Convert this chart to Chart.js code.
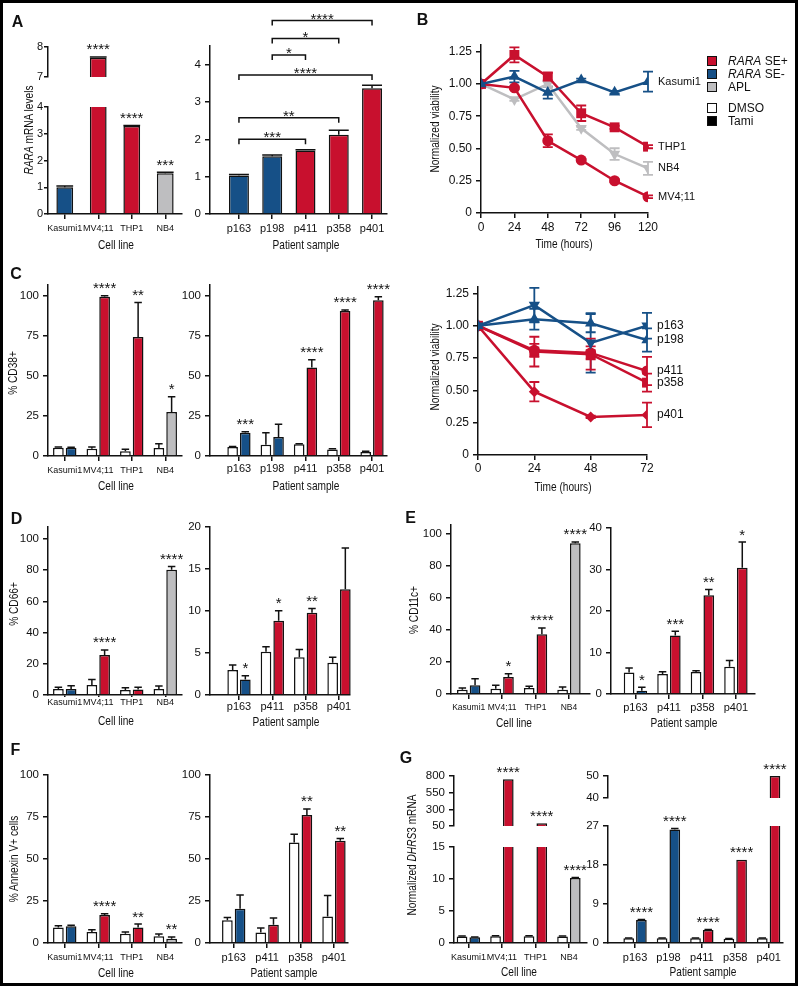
<!DOCTYPE html>
<html lang="en">
<head>
<meta charset="UTF-8">
<title>RARA super-enhancer and tamibarotene response</title>
<script src="https://cdn.jsdelivr.net/npm/chart.js@4.4.1/dist/chart.umd.min.js"></script>
<style>
  html, body { margin: 0; padding: 0; background: #fff; }
  #fig { position: relative; width: 798px; height: 986px; overflow: hidden;
         font-family: 'Liberation Sans', Arial, Helvetica, sans-serif; color: #111; }
  #fig canvas { position: absolute; left: 0; top: 0; }
  .ttl { position: absolute; z-index: 5; white-space: nowrap; line-height: 1; font-size: 13.5px;
         transform: translate(-50%, -50%) scaleX(0.75); }
  .ttl.vert { transform: translate(-50%, -50%) rotate(-90deg) scaleX(0.75); }
  .letter { position: absolute; z-index: 5; line-height: 1; font-size: 16px; font-weight: bold;
            transform: translate(-50%, -50%); }
  .key { position: absolute; z-index: 5; left: 707px; display: flex; align-items: center;
         font-size: 12px; line-height: 1; transform: translateY(-50%); white-space: nowrap; }
  .key .box { width: 8px; height: 8px; border: 1.3px solid #111; margin-right: 11px; }
  #frame { position: absolute; left: 0; top: 0; right: 0; bottom: 0; border: 3px solid #000; z-index: 6; }
</style>
</head>
<body>
<div id="fig"><div id="frame"></div></div>
<script>
    const INK = '#111111', RED = '#c8102e', BLUE = '#165087', GRAY = '#bebec0', WHITE = '#ffffff';
    Chart.defaults.font.family = "'Liberation Sans', Arial, Helvetica, sans-serif";
    Chart.defaults.color = INK;

    // categories
    const cellLines = ['Kasumi1', 'MV4;11', 'THP1', 'NB4'];
    const patients5 = ['p163', 'p198', 'p411', 'p358', 'p401'];
    const patients4 = ['p163', 'p411', 'p358', 'p401'];
    const hoursB = [0, 24, 48, 72, 96, 120];
    const hoursC = [0, 24, 48, 72];

    // tick labels
    const ticksA1Low = [0, 1, 2, 3, 4], ticksA1High = [7, 8], ticksA2 = [0, 1, 2, 3, 4];
    const ticksViab = [0, 0.25, 0.5, 0.75, 1.0, 1.25];
    const ticksPct25 = [0, 25, 50, 75, 100];
    const ticksPct20 = [0, 20, 40, 60, 80, 100];
    const ticksD2 = [0, 5, 10, 15, 20];
    const ticksE2 = [0, 10, 20, 30, 40];
    const ticksG1Low = [0, 5, 10, 15], ticksG1High = [50, 300, 550, 800];
    const ticksG2Low = [0, 9, 18, 27], ticksG2High = [40, 50];

    // A: RARA mRNA
    const raraCell = [1.0, 7.64, 3.29, 1.52];
    const raraCellErr = [0.05, 0.03, 0.02, 0.04];
    const raraCellSig = ['', '****', '****', '***'];
    const raraPat = [1.03, 1.55, 1.70, 2.12, 3.37];
    const raraPatErr = [0.03, 0.03, 0.02, 0.12, 0.08];
    const raraPatPairs = [[0, 2, '***', 2.0], [0, 3, '**', 2.58], [0, 4, '****', 3.72],
                          [1, 2, '*', 4.26], [1, 3, '*', 4.7], [1, 4, '****', 5.18]];

    // B: viability of cell lines
    const viabKasumi1 = [1.0, 1.057, 0.933, 1.031, 0.935, 1.018];
    const viabKasumi1Err = [0, 0.045, 0.047, 0.01, 0.01, 0.078];
    const viabTHP1 = [1.0, 1.225, 1.057, 0.773, 0.664, 0.514];
    const viabTHP1Err = [0, 0.058, 0.03, 0.06, 0.012, 0.012];
    const viabNB4 = [1.0, 0.88, 1.0, 0.656, 0.457, 0.346];
    const viabNB4Err = [0, 0.01, 0.02, 0.012, 0.045, 0.05];
    const viabMV411 = [1.0, 0.97, 0.56, 0.41, 0.25, 0.126];
    const viabMV411Err = [0, 0.01, 0.05, 0.01, 0.01, 0.01];

    // C: CD38
    const cd38CellDmso = [5.2, 4.6, 2.9, 5.0];
    const cd38CellDmsoErr = [0.4, 1.0, 1.3, 2.7];
    const cd38CellTami = [5.2, 99.6, 74.5, 27.6];
    const cd38CellTamiErr = [0.2, 0.6, 21.5, 9.4];
    const cd38CellSig = ['', '****', '**', '*'];
    const cd38PatDmso = [5.6, 7.1, 7.3, 4.0, 2.5];
    const cd38PatDmsoErr = [0.3, 7.5, 0.4, 0.6, 0.5];
    const cd38PatTami = [14.6, 11.9, 55.3, 90.8, 97.5];
    const cd38PatTamiErr = [0.6, 7.9, 5.0, 0.6, 2.1];
    const cd38PatSig = ['***', '', '****', '****', '****'];

    // C: viability of patient samples
    const viabP163 = [1.0, 1.16, 0.868, 1.0], viabP163Err = [0, 0.134, 0.23, 0.1];
    const viabP198 = [1.0, 1.05, 1.02, 0.89], viabP198Err = [0, 0.08, 0.07, 0.09];
    const viabP411 = [1.0, 0.81, 0.79, 0.65], viabP411Err = [0, 0.05, 0.05, 0.11];
    const viabP358 = [1.0, 0.80, 0.78, 0.56], viabP358Err = [0, 0.115, 0.12, 0.07];
    const viabP401 = [1.0, 0.49, 0.295, 0.31], viabP401Err = [0, 0.075, 0.01, 0.095];

    // D: CD66
    const cd66CellDmso = [3.8, 6.4, 3.2, 3.9], cd66CellDmsoErr = [1.2, 3.6, 1.4, 1.9];
    const cd66CellTami = [3.8, 25.7, 3.6, 80.3], cd66CellTamiErr = [2.2, 3.2, 1.3, 2.1];
    const cd66CellSig = ['', '****', '', '****'];
    const cd66PatDmso = [2.97, 5.15, 4.48, 3.84], cd66PatDmsoErr = [0.59, 0.59, 0.95, 0.64];
    const cd66PatTami = [1.86, 8.83, 9.78, 12.6], cd66PatTamiErr = [0.44, 1.19, 0.52, 4.9];
    const cd66PatSig = ['*', '*', '**', ''];

    // E: CD11c
    const cd11cCellDmso = [2.7, 3.3, 3.75, 2.7], cd11cCellDmsoErr = [1.05, 2.1, 1.05, 1.7];
    const cd11cCellTami = [5.4, 10.6, 37.3, 94.2], cd11cCellTamiErr = [4.2, 2.1, 3.95, 0.8];
    const cd11cCellSig = ['', '*', '****', '****'];
    const cd11cPatDmso = [5.2, 4.8, 5.28, 6.56], cd11cPatDmsoErr = [1.04, 0.56, 0.32, 1.54];
    const cd11cPatTami = [0.8, 14.1, 23.8, 30.4], cd11cPatTamiErr = [0.8, 1.0, 1.4, 6.2];
    const cd11cPatSig = ['*', '***', '**', '*'];

    // F: Annexin V
    const annexCellDmso = [9.3, 6.5, 5.5, 4.0], annexCellDmsoErr = [1.0, 1.4, 1.0, 1.3];
    const annexCellTami = [9.9, 16.6, 9.3, 2.6], annexCellTamiErr = [0.6, 0.8, 2.0, 1.0];
    const annexCellSig = ['', '****', '**', '**'];
    const annexPatDmso = [13.5, 6.3, 59.8, 15.8], annexPatDmsoErr = [1.7, 2.6, 5.0, 12.5];
    const annexPatTami = [20.4, 10.9, 76.2, 60.8], annexPatTamiErr = [8.1, 4.0, 3.6, 1.4];
    const annexPatSig = ['', '', '**', '**'];

    // G: DHRS3 mRNA
    const dhrsCellDmso = [1.0, 1.05, 1.05, 1.0], dhrsCellDmsoErr = [0.08, 0.08, 0.08, 0.08];
    const dhrsCellTami = [0.9, 750, 90, 10.15], dhrsCellTamiErr = [0.05, 0, 0, 0.08];
    const dhrsCellSig = ['', '****', '****', '****'];
    const dhrsPatDmso = [1.1, 1.1, 1.1, 1.0, 1.1], dhrsPatDmsoErr = [0.05, 0.05, 0.05, 0.05, 0.05];
    const dhrsPatTami = [5.3, 26.2, 3.0, 19.2, 50], dhrsPatTamiErr = [0.15, 0.2, 0.1, 0, 0];
    const dhrsPatSig = ['****', '****', '****', '****', '****'];

    // bar fills per category (style)
    const cellTone = [BLUE, RED, RED, GRAY];
    const pat5Tone = [BLUE, BLUE, RED, RED, RED];
    const pat4Tone = [BLUE, RED, RED, RED];

    const PW = 798, PH = 986, YW = 44, XH = 40;
    const fig = document.getElementById('fig');
    const STAR_FONT = '15px "Liberation Sans", Arial, sans-serif';

    // error bars, significance stars, brackets and end-of-line labels
    const extras = {
        id: 'extras',
        beforeDatasetsDraw(chart) {
            if (chart.config.type !== 'line') return;
            const { ctx, scales: { y } } = chart;
            ctx.save();
            ctx.lineWidth = 1.8;
            chart.data.datasets.forEach((ds, di) => {
                if (!ds.err) return;
                ctx.strokeStyle = ds.borderColor;
                chart.getDatasetMeta(di).data.forEach((el, i) => {
                    const e = ds.err[i];
                    if (!e) return;
                    const v = ds.data[i].y;
                    const y1 = y.getPixelForValue(v + e), y2 = y.getPixelForValue(v - e);
                    ctx.beginPath();
                    ctx.moveTo(el.x, y1); ctx.lineTo(el.x, y2);
                    ctx.moveTo(el.x - 5, y1); ctx.lineTo(el.x + 5, y1);
                    ctx.moveTo(el.x - 5, y2); ctx.lineTo(el.x + 5, y2);
                    ctx.stroke();
                });
            });
            ctx.restore();
        },
        afterDatasetsDraw(chart, args, o) {
            const { ctx, chartArea: a, scales: { x, y } } = chart;
            const isBar = chart.config.type === 'bar';
            const clipTop = o.clipTop === undefined ? 3 : o.clipTop;
            ctx.save();
            ctx.fillStyle = INK;
            ctx.strokeStyle = INK;
            chart.data.datasets.forEach((ds, di) => {
                const meta = chart.getDatasetMeta(di);
                meta.data.forEach((el, i) => {
                    const v = ds.data[i].y;
                    const e = ds.err ? ds.err[i] : 0;
                    if (isBar && e) {
                        ctx.save();
                        ctx.beginPath();
                        ctx.rect(a.left - 10, a.top - clipTop, a.width + 20, a.height + clipTop);
                        ctx.clip();
                        const y0 = y.getPixelForValue(v), y1 = y.getPixelForValue(v + e);
                        const hw = el.width * (o.cap || 0.7) / 2;
                        ctx.lineWidth = 1.5;
                        ctx.beginPath();
                        ctx.moveTo(el.x, y0); ctx.lineTo(el.x, y1);
                        ctx.moveTo(el.x - hw, y1); ctx.lineTo(el.x + hw, y1);
                        ctx.stroke();
                        ctx.restore();
                    }
                    const s = ds.stars && ds.stars[i];
                    const top = v + e;
                    if (s && top >= y.min && top <= y.max) {
                        ctx.font = STAR_FONT;
                        ctx.textAlign = 'center';
                        ctx.textBaseline = 'alphabetic';
                        ctx.fillText(s, el.x, y.getPixelForValue(top) - 2.5);
                    }
                });
                if (o.endLabels && ds.label) {
                    const last = meta.data[meta.data.length - 1];
                    ctx.font = o.labelSize + 'px "Liberation Sans", Arial, sans-serif';
                    ctx.textAlign = 'left';
                    ctx.textBaseline = 'middle';
                    ctx.fillText(ds.label, last.x + 10, last.y);
                }
            });
            (o.brackets || []).forEach(([i, j, s, level]) => {
                const x1 = x.getPixelForValue(i), x2 = x.getPixelForValue(j);
                const yy = y.getPixelForValue(level);
                ctx.lineWidth = 1.5;
                ctx.beginPath();
                ctx.moveTo(x1, yy + 5); ctx.lineTo(x1, yy); ctx.lineTo(x2, yy); ctx.lineTo(x2, yy + 5);
                ctx.stroke();
                ctx.font = STAR_FONT;
                ctx.textAlign = 'center';
                ctx.textBaseline = 'alphabetic';
                ctx.fillText(s, (x1 + x2) / 2, yy + 3);
            });
            ctx.restore();
        }
    };

    function pad(area, withX) {
        const [l, t, r, b] = area;
        return { left: l - YW, top: t, right: PW - r, bottom: PH - b - (withX ? XH : 0) };
    }

    function yAxis(ticks, min, max, size, fmt, opt) {
        opt = opt || {};
        return {
            min, max,
            afterBuildTicks: s => { s.ticks = ticks.map(v => ({ value: v })); },
            afterFit: s => { s.width = YW; },
            grid: { drawOnChartArea: false, tickLength: opt.tick || 5, color: INK, lineWidth: 1.5 },
            border: { color: INK, width: 1.5 },
            ticks: {
                color: INK, font: { size }, padding: opt.gap === undefined ? 4 : opt.gap, autoSkip: false,
                callback: fmt || (v => String(v))
            }
        };
    }

    function xAxis(ticks, min, max, opt) {
        return {
            type: 'linear', min, max, offset: false,
            afterBuildTicks: s => { s.ticks = ticks.map(v => ({ value: v })); },
            afterFit: s => { s.height = XH; },
            grid: { offset: false, drawOnChartArea: false, tickLength: opt.tick || 5, color: INK, lineWidth: 1.5 },
            border: { color: INK, width: 1.5 },
            ticks: {
                color: INK, font: { size: opt.size }, padding: opt.gap, autoSkip: false,
                maxRotation: 0, minRotation: 0,
                callback: v => opt.labels ? opt.labels[v] : String(v)
            }
        };
    }

    function hidden(min, max) {
        return { type: 'linear', min, max, offset: false, display: false };
    }

    const idx = arr => arr.map((_, i) => i);
    const viabFmt = v => v === 0 ? '0' : v.toFixed(2);

    function bars(vals, err, fill, sig, cp, bp, clipTop) {
        return {
            data: vals.map((v, i) => ({ x: i, y: v })),
            err, stars: sig,
            backgroundColor: fill, borderColor: INK, borderWidth: 1.5, borderSkipped: 'start',
            categoryPercentage: cp, barPercentage: bp,
            clip: { left: 10, right: 10, top: clipTop, bottom: 0 }
        };
    }

    function pair(dm, dmErr, tm, tmErr, tone, sig, clipTop) {
        return [
            bars(dm, dmErr, WHITE, null, 0.76, 0.84, clipTop),
            bars(tm, tmErr, tone, sig, 0.76, 0.84, clipTop)
        ];
    }

    function trace(name, xs, vals, err, color, style, rot, radius) {
        return {
            label: name,
            data: vals.map((v, i) => ({ x: xs[i], y: v })),
            err,
            borderColor: color, backgroundColor: color,
            pointBackgroundColor: color, pointBorderColor: color, pointBorderWidth: 0,
            pointStyle: style, pointRotation: rot, pointRadius: radius,
            borderWidth: 2.5, tension: 0
        };
    }

    function chart(type, area, datasets, x, y, extra) {
        const c = document.createElement('canvas');
        c.width = PW;
        c.height = PH;
        fig.appendChild(c);
        return new Chart(c, {
            type,
            data: { datasets },
            options: {
                responsive: false, maintainAspectRatio: false, animation: false, events: [],
                layout: { padding: pad(area, x.display !== false) },
                plugins: { legend: { display: false }, tooltip: { enabled: false }, extras: extra || {} },
                scales: { x, y }
            },
            plugins: [extras]
        });
    }

    // ---- A ----
    const raraCellSets = clip => [bars(raraCell, raraCellErr, cellTone, raraCellSig, 0.8, 0.625, clip)];
    const tightY = { gap: 1, tick: 4 };
    chart('bar', [48, 47, 182, 77], raraCellSets(3), hidden(-0.5, 3.5),
        yAxis(ticksA1High, 7, 8, 11, null, tightY), { cap: 1 });
    chart('bar', [48, 107, 182, 214], raraCellSets(0),
        xAxis(idx(cellLines), -0.5, 3.5, { labels: cellLines, size: 9, gap: 4.6 }),
        yAxis(ticksA1Low, 0, 4, 11, null, tightY), { cap: 1, clipTop: 0 });
    chart('bar', [210, 46, 387, 214], [bars(raraPat, raraPatErr, pat5Tone, null, 0.8, 0.75, 3)],
        xAxis(idx(patients5), -0.87, 4.45, { labels: patients5, size: 11, gap: 3.7 }),
        yAxis(ticksA2, 0, 4.5, 11.5), { cap: 1, brackets: raraPatPairs });

    // ---- B ----
    chart('line', [481, 45, 648, 213], [
        trace('Kasumi1', hoursB, viabKasumi1, viabKasumi1Err, BLUE, 'triangle', 0, 6.5),
        trace('THP1', hoursB, viabTHP1, viabTHP1Err, RED, 'rect', 0, 7),
        trace('MV4;11', hoursB, viabMV411, viabMV411Err, RED, 'circle', 0, 5.5),
        trace('NB4', hoursB, viabNB4, viabNB4Err, GRAY, 'triangle', 180, 6.5)
    ], xAxis(hoursB, 0, 120, { size: 12, gap: 2.8 }),
        yAxis(ticksViab, 0, 1.302, 12, viabFmt), { endLabels: true, labelSize: 11 });

    // ---- C ----
    chart('bar', [48, 285, 182, 456],
        pair(cd38CellDmso, cd38CellDmsoErr, cd38CellTami, cd38CellTamiErr, cellTone, cd38CellSig, 3),
        xAxis(idx(cellLines), -0.5, 3.5, { labels: cellLines, size: 9, gap: 4.6 }),
        yAxis(ticksPct25, 0, 107, 11.5));
    chart('bar', [210, 285, 387, 456],
        pair(cd38PatDmso, cd38PatDmsoErr, cd38PatTami, cd38PatTamiErr, pat5Tone, cd38PatSig, 3),
        xAxis(idx(patients5), -0.87, 4.45, { labels: patients5, size: 11, gap: 1.7 }),
        yAxis(ticksPct25, 0, 107, 11.5));
    chart('line', [478, 287, 647, 455], [
        trace('p163', hoursC, viabP163, viabP163Err, BLUE, 'triangle', 180, 6.5),
        trace('p198', hoursC, viabP198, viabP198Err, BLUE, 'triangle', 0, 6.5),
        trace('p411', hoursC, viabP411, viabP411Err, RED, 'circle', 0, 5.5),
        trace('p358', hoursC, viabP358, viabP358Err, RED, 'rect', 0, 7),
        trace('p401', hoursC, viabP401, viabP401Err, RED, 'rectRot', 0, 5.5)
    ], xAxis(hoursC, 0, 72, { size: 12, gap: 1.8 }),
        yAxis(ticksViab, 0, 1.30, 12, viabFmt), { endLabels: true, labelSize: 12 });

    // ---- D ----
    chart('bar', [48, 527, 182, 695],
        pair(cd66CellDmso, cd66CellDmsoErr, cd66CellTami, cd66CellTamiErr, cellTone, cd66CellSig, 3),
        xAxis(idx(cellLines), -0.5, 3.5, { labels: cellLines, size: 9, gap: 0, tick: 2 }),
        yAxis(ticksPct20, 0, 107.7, 11.5));
    chart('bar', [210, 527, 350, 695],
        pair(cd66PatDmso, cd66PatDmsoErr, cd66PatTami, cd66PatTamiErr, pat4Tone, cd66PatSig, 3),
        xAxis(idx(patients4), -0.87, 3.33, { labels: patients4, size: 11, gap: 0.4 }),
        yAxis(ticksD2, 0, 20, 11.5));

    // ---- E ----
    chart('bar', [451, 525, 590, 694],
        pair(cd11cCellDmso, cd11cCellDmsoErr, cd11cCellTami, cd11cCellTamiErr, cellTone, cd11cCellSig, 3),
        xAxis(idx(cellLines), -0.53, 3.63, { labels: cellLines, size: 8.5, gap: 3.8 }),
        yAxis(ticksPct20, 0, 105.6, 11.5));
    chart('bar', [611, 528, 755, 694],
        pair(cd11cPatDmso, cd11cPatDmsoErr, cd11cPatTami, cd11cPatTamiErr, pat4Tone, cd11cPatSig, 3),
        xAxis(idx(patients4), -0.73, 3.57, { labels: patients4, size: 11, gap: 2.4 }),
        yAxis(ticksE2, 0, 40, 11.5));

    // ---- F ----
    chart('bar', [48, 775, 182, 943],
        pair(annexCellDmso, annexCellDmsoErr, annexCellTami, annexCellTamiErr, cellTone, annexCellSig, 3),
        xAxis(idx(cellLines), -0.5, 3.5, { labels: cellLines, size: 9, gap: 4.3 }),
        yAxis(ticksPct25, 0, 100, 11.5));
    chart('bar', [210, 775, 348, 943],
        pair(annexPatDmso, annexPatDmsoErr, annexPatTami, annexPatTamiErr, pat4Tone, annexPatSig, 3),
        xAxis(idx(patients4), -0.71, 3.42, { labels: patients4, size: 11, gap: 3.1 }),
        yAxis(ticksPct25, 0, 100, 11.5));

    // ---- G (broken axes) ----
    chart('bar', [454, 776, 587, 826],
        pair(dhrsCellDmso, dhrsCellDmsoErr, dhrsCellTami, dhrsCellTamiErr, cellTone, dhrsCellSig, 3),
        hidden(-0.43, 3.54), yAxis(ticksG1High, 50, 800, 11.5));
    chart('bar', [454, 847, 587, 943],
        pair(dhrsCellDmso, dhrsCellDmsoErr, dhrsCellTami, dhrsCellTamiErr, cellTone, dhrsCellSig, 0),
        xAxis(idx(cellLines), -0.43, 3.54, { labels: cellLines, size: 9, gap: 4.3 }),
        yAxis(ticksG1Low, 0, 15, 11.5), { clipTop: 0 });
    chart('bar', [608, 776, 783, 798],
        pair(dhrsPatDmso, dhrsPatDmsoErr, dhrsPatTami, dhrsPatTamiErr, pat5Tone, dhrsPatSig, 3),
        hidden(-0.81, 4.43), yAxis(ticksG2High, 40, 50, 11.5));
    chart('bar', [608, 826, 783, 943],
        pair(dhrsPatDmso, dhrsPatDmsoErr, dhrsPatTami, dhrsPatTamiErr, pat5Tone, dhrsPatSig, 0),
        xAxis(idx(patients5), -0.81, 4.43, { labels: patients5, size: 11, gap: 3.1 }),
        yAxis(ticksG2Low, 0, 27, 11.5), { clipTop: 0 });

    // ---- text overlay: axis titles, panel letters, legend ----
    const titles = [
        ['<i>RARA</i> mRNA levels', 29, 130, true], ['Cell line', 116, 245], ['Patient sample', 306, 245],
        ['Normalized viability', 435, 129, true], ['Time (hours)', 564, 244],
        ['% CD38+', 13, 373, true], ['Cell line', 116, 486], ['Patient sample', 306, 486],
        ['Normalized viability', 435, 367, true], ['Time (hours)', 563, 487],
        ['% CD66+', 14, 604, true], ['Cell line', 116, 721], ['Patient sample', 286, 722],
        ['% CD11c+', 414, 610, true], ['Cell line', 514, 723], ['Patient sample', 684, 723],
        ['% Annexin V+ cells', 14, 859, true], ['Cell line', 116, 973], ['Patient sample', 284, 973],
        ['Normalized <i>DHRS</i>3 mRNA', 412, 855, true], ['Cell line', 519, 972], ['Patient sample', 703, 972]
    ];
    titles.forEach(([html, x, y, vert]) => {
        const d = document.createElement('div');
        d.className = vert ? 'ttl vert' : 'ttl';
        d.innerHTML = html;
        d.style.left = x + 'px';
        d.style.top = y + 'px';
        fig.appendChild(d);
    });

    const letters = [['A', 17.5, 22], ['B', 422.5, 20], ['C', 16, 274], ['D', 16.5, 519],
                     ['E', 410.5, 517.5], ['F', 15.5, 749.5], ['G', 406, 758]];
    letters.forEach(([t, x, y]) => {
        const d = document.createElement('div');
        d.className = 'letter';
        d.textContent = t;
        d.style.left = x + 'px';
        d.style.top = y + 'px';
        fig.appendChild(d);
    });

    const keyItems = [['<i>RARA</i> SE+', RED, 61], ['<i>RARA</i> SE-', BLUE, 74.3], ['APL', GRAY, 86.7],
                      ['DMSO', WHITE, 108.3], ['Tami', '#000000', 121]];
    keyItems.forEach(([html, fill, y]) => {
        const d = document.createElement('div');
        d.className = 'key';
        d.style.top = y + 'px';
        d.innerHTML = '<span class="box" style="background:' + fill + '"></span><span>' + html + '</span>';
        fig.appendChild(d);
    });
</script>
</body>
</html>
